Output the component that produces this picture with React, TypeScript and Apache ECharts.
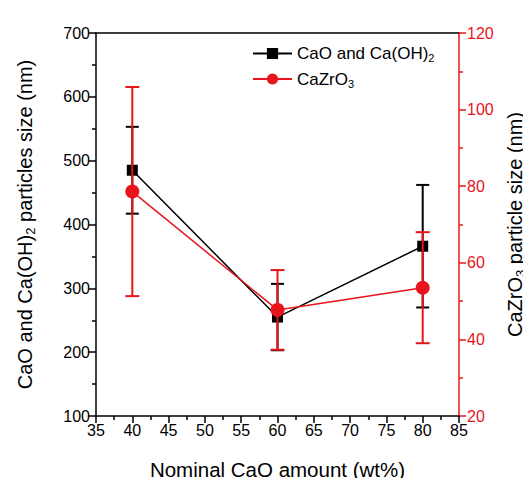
import React, { useEffect, useRef } from "react";
import * as echarts from "echarts";

const xValues = [40, 60, 80];
const caoSize = [485, 255, 366];
const caoErr = [68, 52, 96];
const cazrSize = [78.6, 47.7, 53.5];
const cazrErr = [27.3, 10.4, 14.5];

const xTitle = "Nominal CaO amount (wt%)";
const caoName = "CaO and Ca(OH)2";
const cazrName = "CaZrO3";

const FONT = "Liberation Sans, Arial, sans-serif";
const RED = "#e8141b";

function errorSeries(vals: number[], errs: number[], color: string, yIdx: number, capW: number, z: number) {
  const data = xValues.map((x, i) => [x, vals[i] - errs[i], vals[i] + errs[i]]);
  return {
    type: "custom",
    yAxisIndex: yIdx,
    z,
    silent: true,
    encode: { x: 0, y: [1, 2] },
    data,
    renderItem: (params: any, api: any) => {
      const x = api.value(0);
      const lo = api.coord([x, api.value(1)]);
      const hi = api.coord([x, api.value(2)]);
      const style = { stroke: color, lineWidth: 2 };
      return {
        type: "group",
        children: [
          { type: "line", shape: { x1: lo[0], y1: lo[1], x2: hi[0], y2: hi[1] }, style },
          { type: "line", shape: { x1: lo[0] - capW / 2, y1: lo[1], x2: lo[0] + capW / 2, y2: lo[1] }, style },
          { type: "line", shape: { x1: hi[0] - capW / 2, y1: hi[1], x2: hi[0] + capW / 2, y2: hi[1] }, style },
        ],
      };
    },
  };
}

export default function App() {
  const ref = useRef<HTMLDivElement>(null);
  useEffect(() => {
    if (!ref.current) return;
    const chart = echarts.init(ref.current, null, { renderer: "svg" });
    const titleRich = {
      m: { fontSize: 20, fontFamily: FONT, color: "#000", lineHeight: 24 },
      s: { fontSize: 13, fontFamily: FONT, color: "#000", verticalAlign: "bottom", lineHeight: 14 },
    };
    chart.setOption({
      animation: false,
      backgroundColor: "#ffffff",
      textStyle: { fontFamily: FONT },
      grid: { left: 96, right: 64, top: 33, bottom: 62, containLabel: false, outerBoundsMode: "none" },
      legend: {
        data: [caoName, cazrName],
        orient: "vertical",
        left: 252,
        top: 45,
        padding: 0,
        itemWidth: 39,
        itemHeight: 14,
        itemGap: 7,
        textStyle: {
          fontSize: 17,
          color: "#000",
          fontFamily: FONT,
          rich: {
            m: { fontSize: 17, fontFamily: FONT, color: "#000", lineHeight: 20 },
            s: { fontSize: 11, fontFamily: FONT, color: "#000", verticalAlign: "bottom", lineHeight: 12 },
          },
        },
        formatter: (name: string) =>
          name === caoName ? "{m|CaO and Ca(OH)}{s|2}" : "{m|CaZrO}{s|3}",
      },
      xAxis: [
        {
          type: "value",
          min: 35,
          max: 85,
          interval: 5,
          name: xTitle,
          nameLocation: "middle",
          nameGap: 43,
          nameTextStyle: { fontSize: 20.5, color: "#000", fontFamily: FONT },
          axisLine: { lineStyle: { color: "#000", width: 1.5 } },
          axisTick: { length: 7, lineStyle: { color: "#000", width: 1.5 } },
          minorTick: { show: true, splitNumber: 2, length: 4, lineStyle: { color: "#000", width: 1.5 } },
          axisLabel: { fontSize: 16, color: "#000", margin: 6, fontFamily: FONT },
          splitLine: { show: false },
        },
        {
          type: "value",
          position: "top",
          min: 35,
          max: 85,
          interval: 5,
          axisLine: { show: true, lineStyle: { color: "#000", width: 1.5 } },
          axisTick: { show: false },
          axisLabel: { show: false },
          splitLine: { show: false },
        },
      ],
      yAxis: [
        {
          type: "value",
          min: 100,
          max: 700,
          interval: 100,
          name: "{m|CaO and Ca(OH)}{s|2}{m| particles size (nm)}",
          nameLocation: "middle",
          nameGap: 59,
          nameRotate: 90,
          nameTextStyle: { fontSize: 20, color: "#000", fontFamily: FONT, rich: titleRich },
          axisLine: { show: true, lineStyle: { color: "#000", width: 1.5 } },
          axisTick: { show: true, length: 7, lineStyle: { color: "#000", width: 1.5 } },
          minorTick: { show: true, splitNumber: 2, length: 4, lineStyle: { color: "#000", width: 1.5 } },
          axisLabel: { fontSize: 16, color: "#000", margin: 6, fontFamily: FONT },
          splitLine: { show: false },
        },
        {
          type: "value",
          position: "right",
          min: 20,
          max: 120,
          interval: 20,
          name: "{m|CaZrO}{s|3}{m| particle size (nm)}",
          nameLocation: "middle",
          nameGap: 41,
          nameRotate: 90,
          nameTextStyle: { fontSize: 20, color: "#000", fontFamily: FONT, rich: titleRich },
          axisLine: { show: true, lineStyle: { color: RED, width: 1.5 } },
          axisTick: { show: true, length: 7, lineStyle: { color: RED, width: 1.5 } },
          minorTick: { show: true, splitNumber: 2, length: 4, lineStyle: { color: RED, width: 1.5 } },
          axisLabel: { fontSize: 16, color: RED, margin: 8, fontFamily: FONT },
          splitLine: { show: false },
        },
      ],
      series: [
        {
          name: caoName,
          type: "line",
          yAxisIndex: 0,
          z: 2,
          data: xValues.map((x, i) => [x, caoSize[i]]),
          symbol: "rect",
          symbolSize: 11,
          itemStyle: { color: "#000" },
          lineStyle: { color: "#000", width: 1.5 },
        },
        errorSeries(caoSize, caoErr, "#000", 0, 13, 3),
        errorSeries(cazrSize, cazrErr, RED, 1, 14, 4),
        {
          name: cazrName,
          type: "line",
          yAxisIndex: 1,
          z: 5,
          data: xValues.map((x, i) => [x, cazrSize[i]]),
          symbol: "circle",
          symbolSize: 14,
          itemStyle: { color: RED },
          lineStyle: { color: RED, width: 1.5 },
        },
      ],
    });
    return () => chart.dispose();
  }, []);
  return <div ref={ref} style={{ width: 523, height: 478, position: "absolute", left: 0, top: 0 }} />;
}
